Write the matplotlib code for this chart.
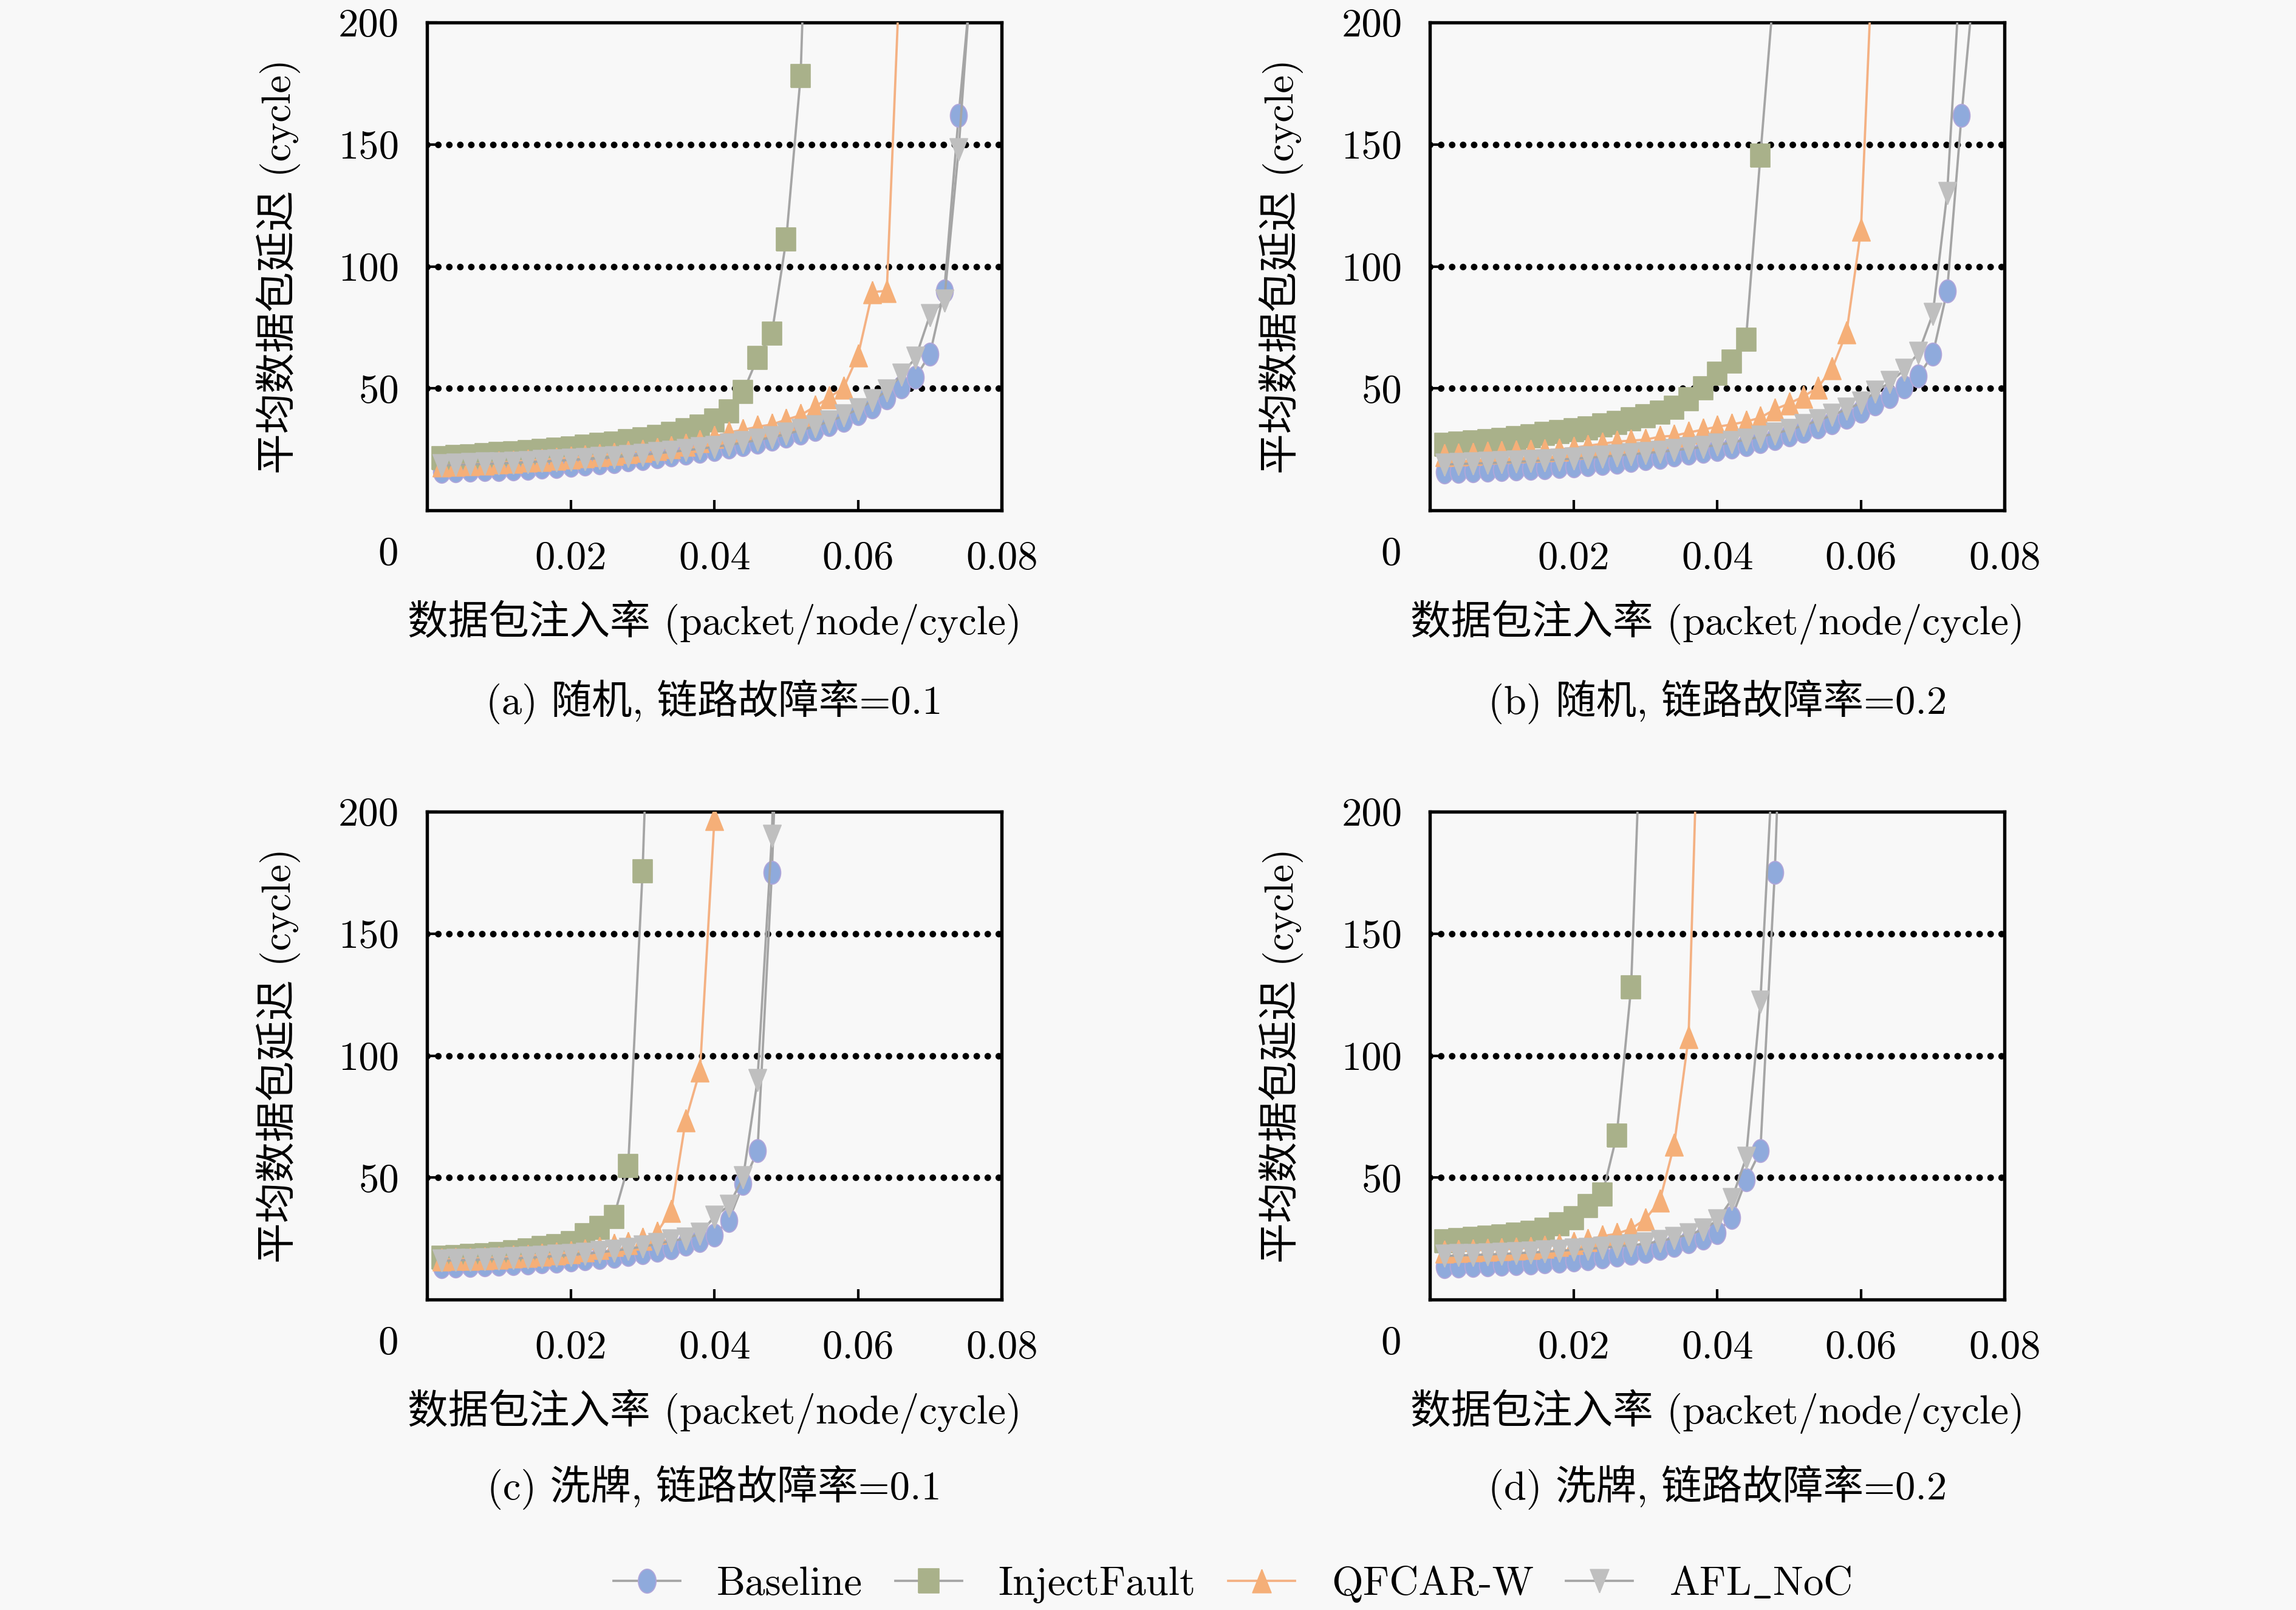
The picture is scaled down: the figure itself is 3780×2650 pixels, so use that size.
import matplotlib
matplotlib.use("Agg")
import matplotlib.pyplot as plt
from matplotlib.path import Path
from matplotlib.transforms import Affine2D

plt.rcParams['font.family'] = ['cmr10', 'Noto Sans CJK SC']
plt.rcParams['mathtext.fontset'] = 'cm'
plt.rcParams['axes.unicode_minus'] = False

# ---------------- data ----------------
INJ_RATE = [0.002, 0.004, 0.006, 0.008, 0.010, 0.012, 0.014, 0.016, 0.018, 0.020,
            0.022, 0.024, 0.026, 0.028, 0.030, 0.032, 0.034, 0.036, 0.038, 0.040,
            0.042, 0.044, 0.046, 0.048, 0.050, 0.052, 0.054, 0.056, 0.058, 0.060,
            0.062, 0.064, 0.066, 0.068, 0.070, 0.072, 0.074, 0.076]

SERIES = ['Baseline', 'InjectFault', 'QFCAR-W', r'$\mathrm{AFL\_NoC}$']

# (a) random, link fault rate 0.1
A_BASE = [16.0, 16.2, 16.4, 16.6, 16.8, 17.0, 17.3, 17.6, 18.0, 18.4, 18.9, 19.4, 20.0,
          20.6, 21.3, 22.0, 22.8, 23.5, 24.2, 25.0, 26.0, 27.0, 28.0, 29.2, 30.3, 31.6,
          33.2, 35.2, 37.0, 39.5, 42.3, 46.0, 50.5, 54.5, 64.0, 90.0, 162.0, 225.0]
A_INJ = [21.5, 22.0, 22.3, 22.7, 23.1, 23.5, 24.0, 24.5, 25.0, 25.5, 26.1, 26.8, 27.5,
         28.3, 29.2, 30.2, 31.4, 32.8, 34.5, 37.0, 40.5, 48.5, 62.5, 72.5, 111.0, 178.0,
         360.0]
A_QF = [18.5, 18.8, 19.0, 19.3, 19.6, 20.0, 20.4, 20.8, 21.2, 21.6, 22.1, 22.6, 23.2,
        23.8, 24.4, 25.1, 26.0, 27.0, 28.5, 30.2, 32.0, 33.0, 34.3, 35.2, 37.2, 39.0,
        42.6, 46.3, 50.4, 63.6, 89.5, 90.0, 235.0]
A_AFL = [18.5, 18.7, 18.9, 19.1, 19.3, 19.5, 19.8, 20.1, 20.4, 20.7, 21.0, 21.4, 21.8,
         22.3, 22.8, 23.4, 24.0, 24.6, 25.3, 26.0, 26.8, 27.8, 28.8, 30.0, 31.3, 32.8,
         34.5, 36.5, 38.8, 41.4, 45.0, 49.0, 55.5, 62.5, 80.0, 86.0, 148.0, 230.0]

# (b) random, link fault rate 0.2
B_BASE = [15.8, 16.0, 16.2, 16.4, 16.6, 16.9, 17.2, 17.5, 17.9, 18.3, 18.7, 19.2, 19.8,
          20.4, 21.1, 21.8, 22.6, 23.4, 24.2, 25.0, 26.0, 27.0, 28.2, 29.5, 31.0, 32.5,
          34.2, 36.0, 38.0, 40.5, 43.5, 46.5, 50.5, 55.0, 64.0, 90.0, 162.0, 225.0]
B_INJ = [27.0, 27.4, 28.0, 28.5, 29.0, 29.7, 30.5, 31.3, 32.2, 33.0, 33.7, 34.8, 36.0,
         37.4, 38.6, 40.1, 42.2, 45.5, 50.0, 56.0, 61.0, 70.0, 145.5, 218.0]
B_QF = [22.8, 23.0, 23.3, 23.6, 23.9, 24.2, 24.4, 24.6, 25.0, 25.7, 26.5, 27.3, 28.2,
        28.6, 29.0, 30.2, 30.6, 31.9, 33.1, 34.3, 35.2, 36.4, 38.0, 41.4, 43.8, 46.7,
        50.4, 58.2, 73.0, 115.0, 255.0]
B_AFL = [18.8, 19.0, 19.2, 19.4, 19.6, 19.9, 20.2, 20.5, 20.8, 21.2, 21.6, 22.0, 22.5,
         23.0, 23.5, 24.0, 24.6, 25.3, 26.0, 26.8, 27.8, 29.0, 30.2, 31.5, 33.0, 34.8,
         36.8, 39.0, 41.5, 44.0, 48.5, 52.5, 57.5, 64.5, 80.5, 130.0, 230.0]

# (c) shuffle, link fault rate 0.1
C_BASE = [13.5, 13.7, 13.9, 14.1, 14.4, 14.7, 15.0, 15.4, 15.8, 16.2, 16.7, 17.2, 17.8,
          18.5, 19.3, 20.2, 21.3, 22.6, 24.2, 26.5, 32.5, 47.5, 61.0, 175.0, 340.0]
C_INJ = [17.2, 17.5, 17.9, 18.3, 18.8, 19.4, 20.3, 21.1, 22.0, 23.3, 26.5, 29.5, 34.0,
         54.7, 175.5, 350.0]
C_QF = [16.4, 16.6, 16.8, 17.0, 17.3, 17.6, 18.0, 18.4, 18.9, 19.4, 20.1, 21.2, 22.5,
        23.3, 25.0, 27.5, 36.5, 73.5, 94.0, 197.0, 400.0]
C_AFL = [16.0, 16.1, 16.3, 16.5, 16.7, 16.9, 17.2, 17.5, 17.9, 18.3, 18.8, 19.4, 20.0,
         20.8, 21.7, 22.8, 24.1, 25.0, 27.0, 34.0, 38.5, 50.0, 90.0, 190.0, 400.0]

# (d) shuffle, link fault rate 0.2
D_BASE = [13.5, 13.7, 13.9, 14.1, 14.4, 14.7, 15.0, 15.4, 15.8, 16.3, 16.8, 17.4, 18.1,
          18.9, 19.8, 20.9, 22.2, 23.8, 25.3, 27.5, 33.6, 49.0, 61.0, 175.0, 340.0]
D_INJ = [23.9, 24.4, 24.9, 25.4, 26.0, 26.6, 27.5, 28.7, 30.8, 33.4, 38.5, 43.0, 67.3,
         128.0, 290.0]
D_QF = [19.8, 20.0, 20.2, 20.4, 20.6, 20.9, 21.2, 21.8, 22.5, 23.2, 24.5, 26.0, 27.0,
        29.0, 33.0, 40.5, 63.5, 107.5, 310.0]
D_AFL = [17.9, 18.1, 18.3, 18.5, 18.7, 19.0, 19.3, 19.6, 20.0, 20.4, 20.8, 21.3, 21.8,
         22.3, 22.9, 24.0, 25.3, 26.6, 28.6, 32.5, 41.0, 58.0, 122.0, 237.0]

PANELS = [
    ('(a) 随机, 链路故障率=0.1', [A_BASE, A_INJ, A_QF, A_AFL]),
    ('(b) 随机, 链路故障率=0.2', [B_BASE, B_INJ, B_QF, B_AFL]),
    ('(c) 洗牌, 链路故障率=0.1', [C_BASE, C_INJ, C_QF, C_AFL]),
    ('(d) 洗牌, 链路故障率=0.2', [D_BASE, D_INJ, D_QF, D_AFL]),
]

XTICKS = [0.02, 0.04, 0.06, 0.08]
XTICKLABELS = ['0.02', '0.04', '0.06', '0.08']
YTICKS = [50, 100, 150, 200]
YTICKLABELS = ['50', '100', '150', '200']
GRID_Y = [50, 100, 150]
XLABEL = '数据包注入率 (packet/node/cycle)'
YLABEL = '平均数据包延迟 (cycle)'

# ---------------- styles ----------------
BG = '#F8F8F8'


def stretched(verts, sx):
    return Path(verts).transformed(Affine2D().scale(sx, 1.0))


circle_m = Path.unit_circle().transformed(Affine2D().scale(0.74, 1.0))
square_m = stretched([(-1, -1), (1, -1), (1, 1), (-1, 1), (-1, -1)], 0.85)
tri_up_m = stretched([(0, 1), (-1, -1), (1, -1), (0, 1)], 0.80)
tri_dn_m = stretched([(0, -1), (-1, 1), (1, 1), (0, -1)], 0.80)

STYLES = [
    dict(color='#A5A5A5', marker=circle_m, ms=9.0, mfc='#8FAADC', mec='#B0A6DA', mew=0.45),
    dict(color='#A5A5A5', marker=square_m, ms=9.0, mfc='#A9B18A', mec='#A9B18A', mew=0.4),
    dict(color='#F4B183', marker=tri_up_m, ms=8.8, mfc='#F5AF78', mec='#F5AF78', mew=0.4),
    dict(color='#A5A5A5', marker=tri_dn_m, ms=8.8, mfc='#BFBFBF', mec='#BFBFBF', mew=0.4),
]

FS = 16
POS = [
    [0.186, 0.683, 0.2503, 0.303],
    [0.6228, 0.683, 0.2503, 0.303],
    [0.186, 0.1928, 0.2503, 0.303],
    [0.6228, 0.1928, 0.2503, 0.303],
]
CAP_Y = [-0.392, -0.392, -0.385, -0.385]

fig = plt.figure(figsize=(12.6, 2650 / 300), dpi=300, facecolor=BG)

handles = None
for i, (caption, data) in enumerate(PANELS):
    ax = fig.add_axes(POS[i], facecolor=BG)
    hs = []
    for j, (name, ys) in enumerate(zip(SERIES, data)):
        st = STYLES[j]
        h, = ax.plot(INJ_RATE[:len(ys)], ys, color=st['color'], lw=0.9,
                     marker=st['marker'], markersize=st['ms'],
                     markerfacecolor=st['mfc'], markeredgecolor=st['mec'],
                     markeredgewidth=st['mew'], label=name, zorder=3 + j)
        hs.append(h)
    if handles is None:
        handles = hs
    for g in GRID_Y:
        ax.axhline(g, color='black', lw=2.6, ls=(0, (0.01, 1.66)),
                   dash_capstyle='round', zorder=2)
    ax.set_xlim(0, 0.08)
    ax.set_ylim(0, 200)
    ax.set_xticks(XTICKS)
    ax.set_xticklabels(XTICKLABELS)
    ax.set_yticks(YTICKS)
    ax.set_yticklabels(YTICKLABELS)
    ax.tick_params(axis='both', direction='in', length=4, width=1.0,
                   labelsize=FS, colors='black')
    ax.tick_params(axis='x', pad=12)
    ax.tick_params(axis='y', pad=11)
    for sp in ax.spines.values():
        sp.set_linewidth(1.3)
        sp.set_color('black')
    ax.annotate('0', xy=(0, 0), xycoords='axes fraction', xytext=(-15.4, -17.6),
                textcoords='offset points', ha='center', va='center', fontsize=FS)
    ax.set_xlabel(XLABEL, fontsize=FS, va='center')
    ax.xaxis.set_label_coords(0.5, -0.229)
    ax.set_ylabel(YLABEL, fontsize=FS, va='center')
    ax.yaxis.set_label_coords(-0.259, 0.5)
    ax.text(0.5, CAP_Y[i], caption, transform=ax.transAxes, ha='center',
            va='center', fontsize=FS)

fig.legend(handles, SERIES, loc='center', bbox_to_anchor=(0.5368, 0.0158),
           ncol=4, frameon=False, fontsize=FS, handlelength=1.65,
           handletextpad=0.9, columnspacing=0.8, markerscale=1.05)

fig.savefig('out.png', dpi=300, facecolor=BG)
